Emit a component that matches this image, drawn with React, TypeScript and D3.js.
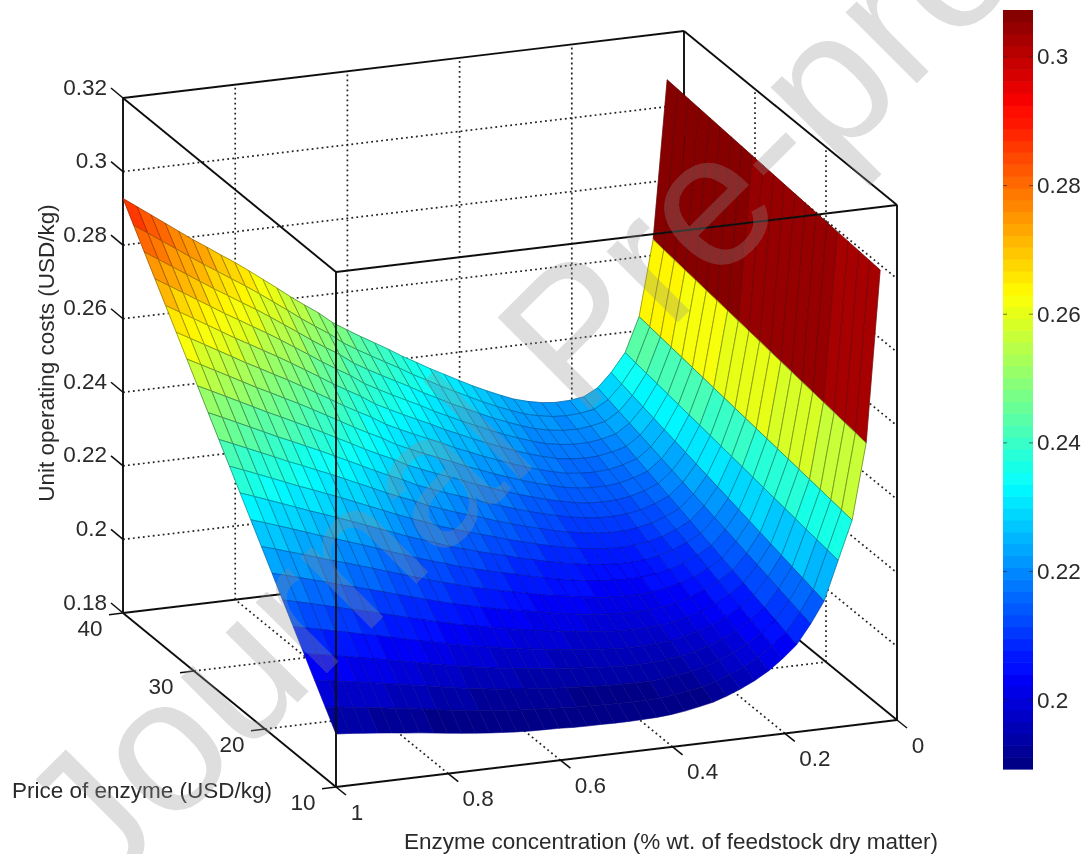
import React from "react";
import * as d3 from "d3";

// ---- data ----
const concentrations = [1.0,0.975,0.95,0.925,0.901,0.876,0.851,0.826,0.801,0.776,0.751,0.726,0.702,0.677,0.652,0.627,0.602,0.577,0.552,0.527,0.503,0.478,0.453,0.428,0.403,0.378,0.353,0.328,0.304,0.279,0.254,0.229,0.204,0.179,0.154,0.13,0.105,0.08,0.055,0.03];
const costAtPrice10 = [0.1944,0.1941,0.1937,0.1933,0.1929,0.1924,0.192,0.1915,0.191,0.1905,0.1901,0.1897,0.1894,0.1891,0.1889,0.1888,0.1887,0.1885,0.1884,0.1884,0.1883,0.1883,0.1884,0.1885,0.1888,0.1893,0.19,0.1908,0.192,0.1935,0.1953,0.1975,0.2004,0.2037,0.2089,0.2147,0.2253,0.2358,0.2563,0.3029];
const costAtPrice40 = [0.2927,0.29,0.2873,0.2846,0.282,0.2793,0.2768,0.2742,0.2717,0.269,0.2662,0.2634,0.2606,0.2579,0.2553,0.2522,0.2498,0.2475,0.2453,0.2431,0.2408,0.2387,0.2365,0.2345,0.2325,0.2305,0.2287,0.227,0.2255,0.2244,0.2236,0.2232,0.2233,0.2238,0.2258,0.2295,0.2345,0.2438,0.2643,0.3073];
const prices = [40,38.5,37,35.5,34,32.5,31,29.5,28,26.5,25,23.5,22,20.5,19,17.5,16,14.5,13,11.5,10];
const concTicks = [1,0.8,0.6,0.4,0.2,0];
const concTickLabels = ["1","0.8","0.6","0.4","0.2","0"];
const priceTicks = [10,20,30,40];
const costTicks = [0.18,0.2,0.22,0.24,0.26,0.28,0.3,0.32];
const costTickLabels = ["0.18","0.2","0.22","0.24","0.26","0.28","0.3","0.32"];
const barTicks = [0.2,0.22,0.24,0.26,0.28,0.3];
const barTickLabels = ["0.2","0.22","0.24","0.26","0.28","0.3"];
const colorLimits = [0.1893, 0.3073];
const jetStops = ["#00007f","#0000ff","#00ffff","#ffff00","#ff0000","#7f0000"];
const jetPositions = [0,0.125,0.375,0.625,0.875,1];

// ---- scales: an oblique projection of the axis box ----
const fc = d3.scaleLinear().domain([1, 0]).range([0, 1]);
const fp = d3.scaleLinear().domain([10, 40]).range([0, 1]);
const fz = d3.scaleLinear().domain([0.18, 0.32]).range([0, 1]);
const project = (c: number, p: number, z: number): [number, number] => [
  336 + 561 * fc(c) - 213 * fp(p),
  787 - 67 * fc(c) - 174 * fp(p) - 515 * fz(z),
];
const jet = d3.scaleLinear<string>().domain(jetPositions).range(jetStops).interpolate(d3.interpolateRgb);
const norm = d3.scaleLinear().domain(colorLimits).range([0, 1]).clamp(true);
const levelColors = d3.range(64).map((i) => jet((i + 0.5) / 64));
const colorOf = (z: number) => levelColors[Math.min(63, Math.floor(norm(z) * 64))];
const meshOpacity = d3.scaleLinear().domain([0, 0.15, 0.5, 1]).range([0.08, 0.4, 0.85, 0.45]);
const barY = d3.scaleLinear().domain(colorLimits).range([769, 10]);

const costAt = (i: number, p: number) =>
  d3.scaleLinear().domain([10, 40]).range([costAtPrice10[i], costAtPrice40[i]])(p);

const path = d3.line();
const FONT = "'Liberation Sans', Arial, sans-serif";
const INK = "#2a2a2a";
const FS = 22.5;

function Seg({ a, b, w = 1.9 }: { a: [number, number]; b: [number, number]; w?: number }) {
  return <line x1={a[0]} y1={a[1]} x2={b[0]} y2={b[1]} stroke="#111" strokeWidth={w} />;
}
function Dot({ a, b }: { a: [number, number]; b: [number, number] }) {
  return <line x1={a[0]} y1={a[1]} x2={b[0]} y2={b[1]} stroke="#222" strokeWidth={1.7} strokeDasharray="1.8 3.2" />;
}
function Label({ x, y, t, anchor = "middle", rotate }: { x: number; y: number; t: string; anchor?: string; rotate?: number }) {
  return (
    <text x={x} y={y} textAnchor={anchor as any} dominantBaseline="central" fontFamily={FONT} fontSize={FS} fill={INK}
      transform={rotate !== undefined ? `rotate(${rotate} ${x} ${y})` : undefined}>{t}</text>
  );
}

export default function App() {
  const zMin = 0.18, zMax = 0.32;
  // faces painted far to near: high price first, small concentration first
  const faces: { d: string; fill: string; line: string; op: number }[] = [];
  for (let r = 0; r < prices.length - 1; r++) {
    const pFar = prices[r], pNear = prices[r + 1];
    for (let i = concentrations.length - 1; i > 0; i--) {
      const cNear = concentrations[i - 1], cFar = concentrations[i];
      const pts: [number, number][] = [
        project(cFar, pFar, costAt(i, pFar)),
        project(cNear, pFar, costAt(i - 1, pFar)),
        project(cNear, pNear, costAt(i - 1, pNear)),
        project(cFar, pNear, costAt(i, pNear)),
      ];
      const z = costAt(i, pNear);
      faces.push({
        d: path(pts)! + "Z",
        fill: colorOf(z),
        line: d3.color(colorOf(z))!.darker(2).formatHex(),
        op: meshOpacity(norm(z)),
      });
    }
  }
  return (
    <svg width={1085} height={854} style={{ position: "absolute", left: 0, top: 0, background: "#fff" }}>
      <defs>
        <filter id="soft" x="-5%" y="-5%" width="110%" height="110%">
          <feGaussianBlur stdDeviation="0.65" />
        </filter>
      </defs>
      <g filter="url(#soft)">
        {/* grid on back walls and floor */}
        {concTicks.slice(1, -1).map((c) => (
          <g key={"gc" + c}>
            <Dot a={project(c, 40, zMin)} b={project(c, 40, zMax)} />
            <Dot a={project(c, 10, zMin)} b={project(c, 40, zMin)} />
          </g>
        ))}
        {priceTicks.slice(1, -1).map((p) => (
          <g key={"gp" + p}>
            <Dot a={project(0, p, zMin)} b={project(0, p, zMax)} />
            <Dot a={project(1, p, zMin)} b={project(0, p, zMin)} />
          </g>
        ))}
        {costTicks.slice(1, -1).map((z) => (
          <g key={"gz" + z}>
            <Dot a={project(1, 40, z)} b={project(0, 40, z)} />
            <Dot a={project(0, 40, z)} b={project(0, 10, z)} />
          </g>
        ))}
        {/* back box edges */}
        <Seg a={project(1, 40, zMin)} b={project(1, 40, zMax)} />
        <Seg a={project(0, 40, zMin)} b={project(0, 40, zMax)} />
        <Seg a={project(1, 40, zMax)} b={project(0, 40, zMax)} />
        <Seg a={project(0, 40, zMax)} b={project(0, 10, zMax)} />
        <Seg a={project(1, 40, zMin)} b={project(0, 40, zMin)} />
        <Seg a={project(0, 40, zMin)} b={project(0, 10, zMin)} />
        {/* surface */}
        {faces.map((f, i) => (
          <g key={i}>
            <path d={f.d} fill={f.fill} stroke={f.fill} strokeWidth={0.5} />
            <path d={f.d} fill="none" stroke={f.line} strokeOpacity={f.op} strokeWidth={0.9} strokeLinejoin="round" />
          </g>
        ))}
        {/* front box edges */}
        <Seg a={project(1, 10, zMin)} b={project(1, 10, zMax)} />
        <Seg a={project(0, 10, zMin)} b={project(0, 10, zMax)} />
        <Seg a={project(1, 10, zMax)} b={project(0, 10, zMax)} />
        <Seg a={project(1, 10, zMin)} b={project(0, 10, zMin)} />
        <Seg a={project(1, 40, zMax)} b={project(1, 10, zMax)} />
        <Seg a={project(1, 40, zMin)} b={project(1, 10, zMin)} />
        {/* ticks */}
        {costTicks.map((z, i) => {
          const [x, y] = project(1, 40, z);
          return (
            <g key={"tz" + z}>
              <Seg a={[x, y]} b={[x - 12, y - 10]} w={1.5} />
              <Label x={107} y={y - 11} t={costTickLabels[i]} anchor="end" />
            </g>
          );
        })}
        {priceTicks.map((p) => {
          const [x, y] = project(1, p, zMin);
          return (
            <g key={"tp" + p}>
              <Seg a={[x, y]} b={[x - 14, y + 1.7]} w={1.5} />
              <Label x={x - 33} y={y + 15} t={String(p)} />
            </g>
          );
        })}
        {concTicks.map((c, i) => {
          const [x, y] = project(c, 10, zMin);
          return (
            <g key={"tc" + c}>
              <Seg a={[x, y]} b={[x + 10, y + 8]} w={1.5} />
              <Label x={x + (c === 1 || c === 0 ? 21 : 30)} y={y + 25} t={concTickLabels[i]} />
            </g>
          );
        })}
        {/* axis titles */}
        <Label x={12} y={790} t="Price of enzyme (USD/kg)" anchor="start" />
        <Label x={404} y={841} t="Enzyme concentration (% wt. of feedstock dry matter)" anchor="start" />
        <Label x={46} y={353} t="Unit operating costs (USD/kg)" rotate={-90} />
        {/* colour bar */}
        {levelColors.map((col, i) => {
          const y1 = barY(colorLimits[0] + ((i + 1) / 64) * (colorLimits[1] - colorLimits[0]));
          const y0 = barY(colorLimits[0] + (i / 64) * (colorLimits[1] - colorLimits[0]));
          return <rect key={i} x={1003} y={y1} width={30} height={y0 - y1 + 0.6} fill={col} />;
        })}
        {barTicks.map((v, i) => (
          <g key={"bt" + v}>
            <line x1={1003} x2={1007} y1={barY(v)} y2={barY(v)} stroke="#222" strokeOpacity={0.6} />
            <line x1={1029} x2={1033} y1={barY(v)} y2={barY(v)} stroke="#222" strokeOpacity={0.6} />
            <Label x={1037} y={barY(v)} t={barTickLabels[i]} anchor="start" />
          </g>
        ))}
        {/* watermark */}
        <text x={101} y={899} transform="rotate(-45 101 899)" fontFamily={FONT} fontSize={190}
          fill="#919191" fillOpacity={0.3}>Journal Pre-proof</text>
      </g>
    </svg>
  );
}
